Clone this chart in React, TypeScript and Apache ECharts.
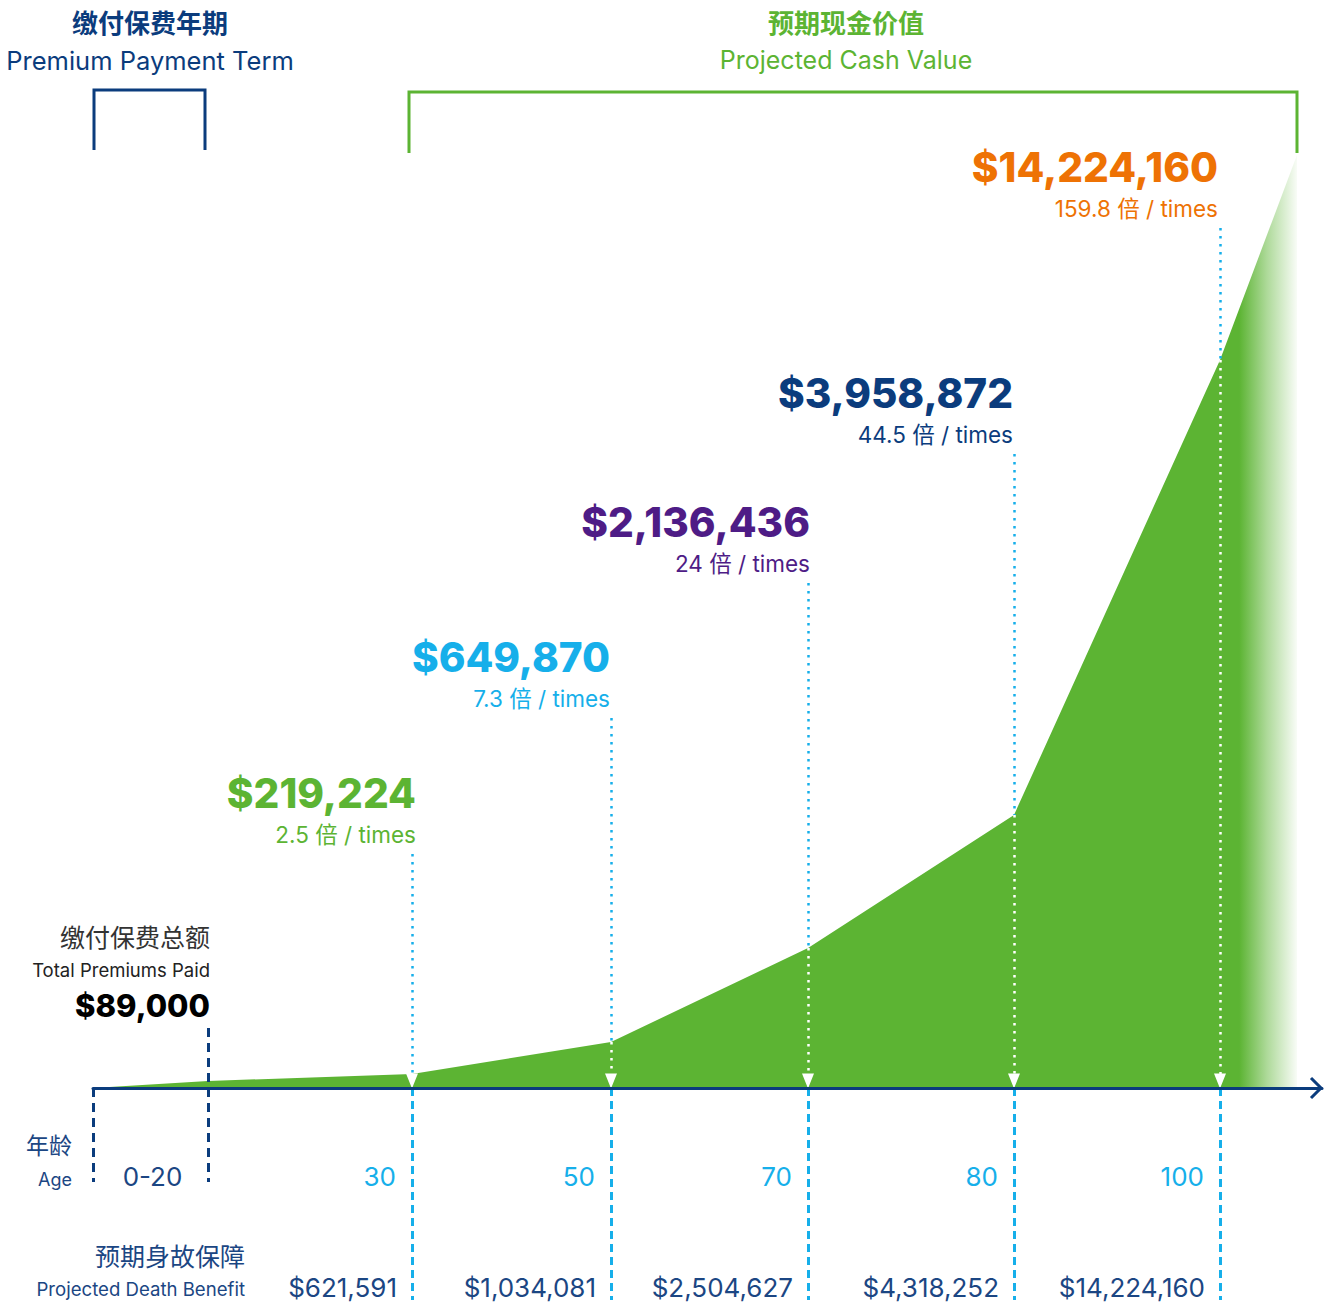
import React, { useEffect, useRef } from "react";
import * as echarts from "echarts";

// colours
const NAVY = "#0b3c7d";
const NAVY_TEXT = "#1b4683";
const CYAN = "#16afea";
const GREEN = "#5cb433";
const ORANGE = "#ee7204";
const PURPLE = "#4e1c86";
const FONT = 'Inter, "Noto Sans CJK SC", sans-serif';

// schematic positions of each stop along the age axis (display units)
const stopX = [0, 115, 319, 518, 715, 921, 1127, 1204];
// visual height of the projected cash value area at each stop (display units)
const areaHeight = [0, 7, 14, 46, 140, 273, 728, 933];

// milestones
const milestoneStop = [2, 3, 4, 5, 6];
const ages = ["30", "50", "70", "80", "100"];
const cashValues = ["$219,224", "$649,870", "$2,136,436", "$3,958,872", "$14,224,160"];
const multiples = ["2.5", "7.3", "24", "44.5", "159.8"];
const deathBenefits = ["$621,591", "$1,034,081", "$2,504,627", "$4,318,252", "$14,224,160"];
const labelHeight = [254, 390, 525, 654, 880];
const labelColors = [GREEN, CYAN, PURPLE, NAVY, ORANGE];

// layout nudges (pixels) for the label blocks
const labelNudge = [4, -1, 2, -1, -2];

const premiumTotal = "$89,000";
const premiumTermLabel = "0-20";

const Y_MIN = -212;
const Y_MAX = 933;
const X_MAX = 1229;
const AGE_ROW = -88;
const BENEFIT_ROW = -199;
const LOWER_GUIDE_END = -94;

export default function App() {
  const ref = useRef<HTMLDivElement>(null);

  useEffect(() => {
    if (!ref.current) return;
    const chart = echarts.init(ref.current, undefined, { renderer: "svg" });

    const markLines: any[] = [];
    milestoneStop.forEach((s, i) => {
      const x = stopX[s];
      // blue dotted from label to area edge
      markLines.push([
        { coord: [x, labelHeight[i] - 20], symbol: "none", lineStyle: { color: CYAN, width: 2.5, type: [2.5, 5.5] } },
        { coord: [x, areaHeight[s]], symbol: "none" },
      ]);
      // white dotted inside the area with arrow
      markLines.push([
        { coord: [x, areaHeight[s]], symbol: "none", lineStyle: { color: "#ffffff", width: 2.5, type: [2.5, 5.5] } },
        { coord: [x, 7], symbol: "triangle", symbolSize: [12, 15] },
      ]);
      // cyan dashed guide below axis
      markLines.push([
        { coord: [x, 0], symbol: "none", lineStyle: { color: CYAN, width: 3, type: [8, 5] } },
        { coord: [x, Y_MIN], symbol: "none" },
      ]);
    });
    // navy guides for the premium term
    markLines.push([
      { coord: [stopX[0], 0], symbol: "none", lineStyle: { color: NAVY, width: 3, type: [9, 6] } },
      { coord: [stopX[0], LOWER_GUIDE_END], symbol: "none" },
    ]);
    markLines.push([
      { coord: [stopX[1], 60], symbol: "none", lineStyle: { color: NAVY, width: 3, type: [9, 6] } },
      { coord: [stopX[1], LOWER_GUIDE_END], symbol: "none" },
    ]);

    chart.setOption({
      animation: false,
      grid: { left: 93, right: 8, top: 155, bottom: 2 },
      xAxis: {
        type: "value",
        min: 0,
        max: X_MAX,
        z: 5,
        axisLine: { show: true, onZero: true, lineStyle: { color: NAVY, width: 3 } },
        axisTick: { show: false },
        axisLabel: { show: false },
        splitLine: { show: false },
      },
      yAxis: {
        type: "value",
        min: Y_MIN,
        max: Y_MAX,
        show: false,
        splitLine: { show: false },
      },
      series: [
        {
          type: "line",
          data: stopX.map((x, i) => [x, areaHeight[i]]),
          showSymbol: false,
          symbol: "none",
          lineStyle: { width: 0 },
          silent: true,
          areaStyle: {
            opacity: 1,
            color: new echarts.graphic.LinearGradient(0, 0, 1, 0, [
              { offset: 0, color: GREEN },
              { offset: 0.952, color: GREEN },
              { offset: 0.975, color: "rgba(92,180,51,0.5)" },
              { offset: 1, color: "rgba(92,180,51,0.04)" },
            ]),
          },
          markLine: {
            silent: true,
            symbol: ["none", "none"],
            label: { show: false },
            emphasis: { disabled: true },
            z: 4,
            data: markLines,
          },
        },
      ],
    });

    const px = (x: number, y: number) => chart.convertToPixel({ gridIndex: 0 }, [x, y]) as number[];
    const txt = (text: string, x: number, y: number, size: number, color: string, align: string, weight: any = "normal") => ({
      type: "text",
      z: 10,
      style: { text, x, y, fill: color, fontSize: size, fontWeight: weight, fontFamily: FONT, align, verticalAlign: "middle" },
    });

    const g: any[] = [];
    // headers
    g.push(txt("缴付保费年期", 150, 23, 26, NAVY, "center", "bold"));
    g.push(txt("Premium Payment Term", 150, 60, 25.5, NAVY, "center"));
    g.push(txt("预期现金价值", 846, 23, 26, GREEN, "center", "bold"));
    g.push(txt("Projected Cash Value", 846, 60, 25, GREEN, "center"));

    // brackets
    const b0 = px(stopX[0], 0), b1 = px(stopX[1], 0), b2 = px(stopX[2], 0), b3 = px(stopX[7], 0);
    g.push({ type: "polyline", z: 10, shape: { points: [[b0[0] + 1, 150], [b0[0] + 1, 90], [b1[0] - 3, 90], [b1[0] - 3, 150]] }, style: { stroke: NAVY, lineWidth: 3, fill: "none" } });
    g.push({ type: "polyline", z: 10, shape: { points: [[b2[0] - 3, 153], [b2[0] - 3, 92], [b3[0], 92], [b3[0], 153]] }, style: { stroke: GREEN, lineWidth: 3, fill: "none" } });

    // axis arrow head
    const ae = px(X_MAX, 0);
    g.push({ type: "polyline", z: 10, shape: { points: [[ae[0] - 11, ae[1] - 10], [ae[0] - 1, ae[1]], [ae[0] - 11, ae[1] + 10]] }, style: { stroke: NAVY, lineWidth: 3, fill: "none" } });

    // milestone labels
    milestoneStop.forEach((s, i) => {
      const p = px(stopX[s], labelHeight[i]);
      const rx = p[0] + labelNudge[i];
      g.push(txt(cashValues[i], rx, p[1] - 41, 40.5, labelColors[i], "right", 800));
      g.push(txt(multiples[i] + " 倍 / times", rx, p[1], 22.5, labelColors[i], "right"));
      const a = px(stopX[s], AGE_ROW);
      g.push(txt(ages[i], a[0] - 16, a[1], 26, CYAN, "right"));
      const d = px(stopX[s], BENEFIT_ROW);
      g.push(txt(deathBenefits[i], d[0] - 15, d[1], 26, NAVY_TEXT, "right"));
    });

    // premium block
    const pp = px(stopX[1], 0);
    g.push(txt("缴付保费总额", pp[0] + 2, 938, 25, "#333333", "right"));
    g.push(txt("Total Premiums Paid", pp[0] + 2, 970, 18.5, "#222222", "right"));
    g.push(txt(premiumTotal, pp[0] + 2, 1005, 31, "#000000", "right", 800));

    // age row
    const ar = px((stopX[0] + stopX[1]) / 2, AGE_ROW);
    g.push(txt(premiumTermLabel, ar[0] + 2, ar[1], 26, NAVY_TEXT, "center"));
    g.push(txt("年龄", 72, 1146, 23, NAVY_TEXT, "right"));
    g.push(txt("Age", 72, 1179, 18, NAVY_TEXT, "right"));

    // death benefit row
    g.push(txt("预期身故保障", 170, 1257, 25, NAVY_TEXT, "center"));
    g.push(txt("Projected Death Benefit", 245, 1289, 18.6, NAVY_TEXT, "right"));

    chart.setOption({ graphic: g });

    return () => chart.dispose();
  }, []);

  return <div ref={ref} style={{ position: "absolute", left: 0, top: 0, width: 1330, height: 1302, background: "#fff" }} />;
}
